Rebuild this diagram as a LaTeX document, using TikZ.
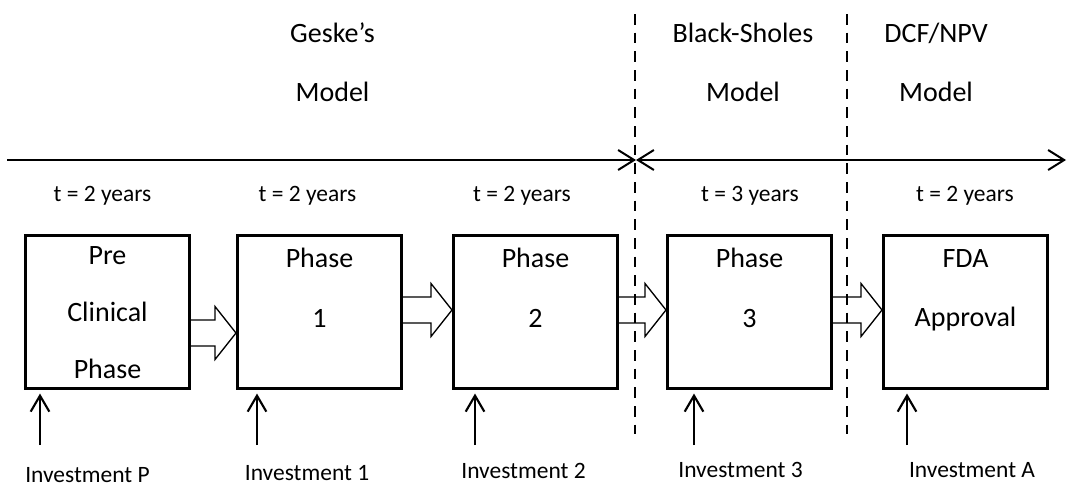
\documentclass[tikz,border=0pt]{standalone}
\usepackage{fontspec}
\setmainfont{Carlito}
\usetikzlibrary{arrows.meta,calc,positioning}

\tikzset{
	phasebox/.style={draw, line width=2.25pt, minimum width=123pt,
	minimum height=114.5pt, inner sep=0pt},
	boxtext/.style={align=center, anchor=base, font=\fontsize{21}{45}\selectfont},
	modeltext/.style={align=center, anchor=base, font=\fontsize{21}{44.25}\selectfont},
	smalltext/.style={anchor=base, font=\fontsize{17.6}{21}\selectfont},
	zeitpfeil/.style={line width=1.5pt, -{Straight Barb[length=12pt,width=15pt]}},
	invpfeil/.style={line width=1.6pt, -{Straight Barb[length=12pt,width=14pt]}},
	blockpfeil/.style={line width=1pt, line join=miter},
	grenze/.style={line width=2pt, dash pattern=on 7.9pt off 6.1pt}
}

% Hohlpfeil zwischen zwei Phasen
\newcommand{\hohlpfeil}[3]{%
	\draw[blockpfeil] ($(#1.east)+(0,#3-13)$) -- ($(#2.west)+(-21,#3-13)$)
	-- ($(#2.west)+(-21,#3-26.5)$) -- ($(#2.west)+(0,#3)$)
	-- ($(#2.west)+(-21,#3+26.5)$) -- ($(#2.west)+(-21,#3+13)$)
	-- ($(#1.east)+(0,#3+13)$);
}

\begin{document}
\begin{tikzpicture}[x=0.75pt, y=-0.75pt]
	\useasboundingbox (0,0) rectangle (1067,483);

	% Modelle oben
	\node[modeltext] (geske) at (332.5,101) {Geske’s\\Model};
	\node[modeltext] (bs) at (743,101) {Black-Sholes\\Model};
	\node[modeltext] (dcf) at (936,101) {DCF/NPV\\Model};

	% Zeitachse
	\coordinate (zeit-start) at (7,160);
	\coordinate (zeit-bs) at (636,160);
	\coordinate (zeit-dcf) at (847,160);
	\coordinate (zeit-ende) at (1066,160);
	\draw[zeitpfeil] (zeit-start) -- (zeit-bs);
	\draw[zeitpfeil, {Straight Barb[length=12pt,width=15pt]}-] (zeit-bs) -- (zeit-dcf);
	\draw[zeitpfeil] (zeit-dcf) -- (zeit-ende);

	% Dauer
	\node[smalltext] (t-pre) at (102.5,201) {t = 2 years};
	\node[smalltext] (t-ph1) at (307.5,201) {t = 2 years};
	\node[smalltext] (t-ph2) at (522,201) {t = 2 years};
	\node[smalltext] (t-ph3) at (750,201) {t = 3 years};
	\node[smalltext] (t-fda) at (965,201) {t = 2 years};

	% Phasen
	\node[phasebox] (pre) at (107.5,311.7) {};
	\node[phasebox] (ph1) at (319.5,311.7) {};
	\node[phasebox] (ph2) at (535.5,311.7) {};
	\node[phasebox] (ph3) at (749.5,311.7) {};
	\node[phasebox] (fda) at (965.5,311.7) {};
	\node[boxtext, font=\fontsize{21}{42.4}\selectfont] (pre-text) at (107.5,378)
	{Pre\\Clinical\\Phase};
	\node[boxtext] (ph1-text) at (319.5,327) {Phase\\1};
	\node[boxtext] (ph2-text) at (535.5,327) {Phase\\2};
	\node[boxtext] (ph3-text) at (749.5,327) {Phase\\3};
	\node[boxtext, font=\fontsize{21}{44}\selectfont] (fda-text) at (965.5,326)
	{FDA\\Approval};

	% Uebergaenge
	\hohlpfeil{pre}{ph1}{21.3}
	\hohlpfeil{ph1}{ph2}{-1.7}
	\hohlpfeil{ph2}{ph3}{-1.7}
	\hohlpfeil{ph3}{fda}{-1.7}

	% Grenzen der Modelle
	\coordinate (grenze1-oben) at (635,14);
	\coordinate (grenze1-unten) at (635,434);
	\coordinate (grenze2-oben) at (847,14);
	\coordinate (grenze2-unten) at (847,434);
	\draw[grenze] (grenze1-oben) -- (grenze1-unten);
	\draw[grenze] (grenze2-oben) -- (grenze2-unten);

	% Investitionen
	\node[smalltext] (inv-p) at (87.5,482) {Investment P};
	\node[smalltext] (inv-1) at (307,480) {Investment 1};
	\node[smalltext] (inv-2) at (523.5,478) {Investment 2};
	\node[smalltext] (inv-3) at (740.5,477) {Investment 3};
	\node[smalltext] (inv-a) at (972,477) {Investment A};
	\coordinate (fuss-p) at (40,445);
	\coordinate (fuss-1) at (257,445);
	\coordinate (fuss-2) at (475,445);
	\coordinate (fuss-3) at (694,445);
	\coordinate (fuss-a) at (907,445);
	\draw[invpfeil] (fuss-p) -- ($(fuss-p |- pre.south)+(0,4)$);
	\draw[invpfeil] (fuss-1) -- ($(fuss-1 |- ph1.south)+(0,4)$);
	\draw[invpfeil] (fuss-2) -- ($(fuss-2 |- ph2.south)+(0,4)$);
	\draw[invpfeil] (fuss-3) -- ($(fuss-3 |- ph3.south)+(0,4)$);
	\draw[invpfeil] (fuss-a) -- ($(fuss-a |- fda.south)+(0,4)$);
\end{tikzpicture}
\end{document}
